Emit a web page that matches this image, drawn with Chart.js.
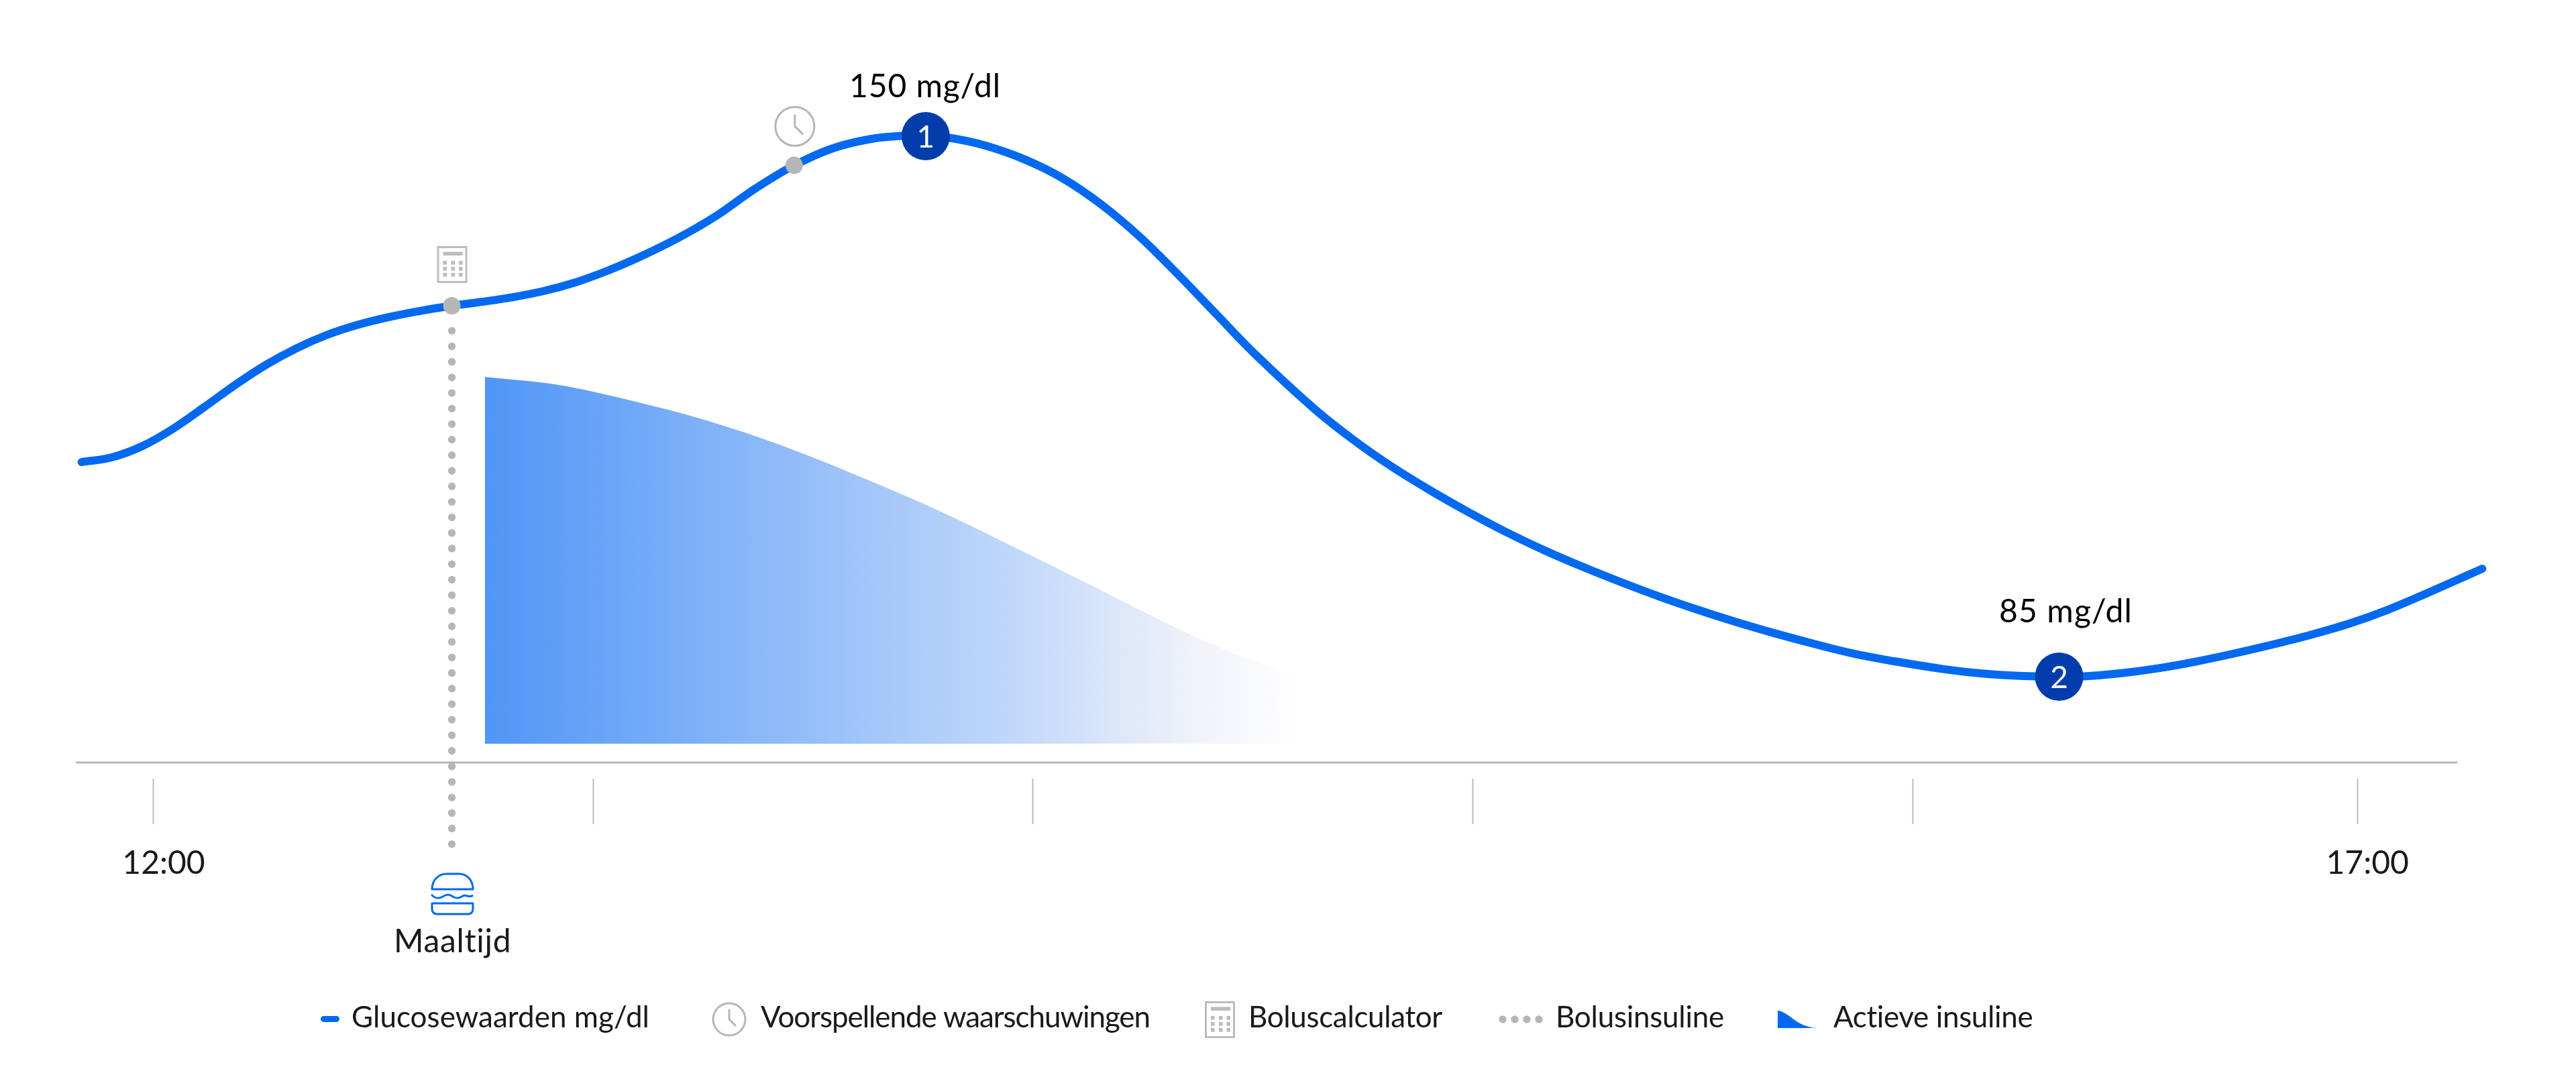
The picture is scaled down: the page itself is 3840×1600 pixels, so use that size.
<!DOCTYPE html>
<html lang="nl">
<head>
<meta charset="UTF-8">
<title>Glucosewaarden</title>
<script src="https://cdn.jsdelivr.net/npm/chart.js"></script>
<style>
  * { margin: 0; padding: 0; }
  body { background: #fff; }
  canvas { display: block; }
</style>
</head>
<body>
<canvas id="glucose-chart" width="3840" height="1600"></canvas>
<script>
// x values are minutes since midnight, y values are mg/dl
const glucoseTimes = [710.2, 714.3, 718.5, 722.7, 726.9, 731.1, 735.3, 739.5, 743.7, 747.9, 752.1, 756.3, 760.6, 764.7, 768.9, 773.1, 777.3, 781.5, 785.7, 791.3, 796.5, 801.8, 807, 812.3, 817.5, 822, 825.1, 828.6, 833.2, 838.5, 843.7, 848.9, 854.2, 859.4, 864.7, 869.9, 877.8, 883.1, 888.3, 893.6, 898.8, 904, 909.3, 914.5, 919.8, 925, 930.2, 935.5, 940.7, 946, 951.2, 957.5, 963.9, 969.1, 974.4, 979.4, 982.8, 987.5, 992.8, 998, 1003.2, 1008.5, 1013.7, 1019, 1024.2, 1029.5, 1037];
const glucoseValues = [110.8, 111.37, 112.74, 114.84, 117.42, 120.08, 122.5, 124.51, 126.13, 127.34, 128.26, 128.99, 129.6, 130.08, 130.64, 131.37, 132.38, 133.71, 135.28, 137.7, 140.36, 143.63, 146.39, 148.49, 149.64, 150.04, 150, 149.76, 148.87, 147.23, 144.96, 141.85, 137.93, 133.42, 128.56, 123.82, 117.37, 113.63, 110.4, 107.5, 104.88, 102.44, 100.2, 98.22, 96.35, 94.63, 93.04, 91.55, 90.21, 88.95, 87.82, 86.77, 85.88, 85.36, 85.08, 85, 85.04, 85.38, 86, 86.81, 87.78, 88.87, 90.04, 91.41, 93.06, 95.04, 97.98];

const insulinTimes = [765.1, 775, 785, 795.3, 805.8, 816.3, 826.8, 837.3, 847.6, 855.2, 862.3, 869.3, 875.9];
const insulinValues = [121.05, 120.1, 118.2, 115.8, 112.7, 109, 105, 100.5, 96, 92.6, 89.6, 87, 85.1];
const insulinBase = 76.93;

const peakTimes = [825.1, 979.4];
const peakValues = [150, 85];
const peakNames = ['1', '2'];
const peakLabels = ['150 mg/dl', '85 mg/dl'];

const eventTimes = [760.6, 807.2];
const eventValues = [129.6, 146.5];

const bolusTimes = [760.6, 760.6];
const bolusValues = [126.6, 63.06];

const axisTimes = [709.41, 1033.6];
const axisValues = [74.67, 74.67];

const tickMinutes = [720, 779.9, 839.7, 899.6, 959.5, 1020];
const tickLabels = ['12:00', '', '', '', '', '17:00'];

const legendLabels = ['Glucosewaarden mg/dl', 'Voorspellende waarschuwingen', 'Boluscalculator', 'Bolusinsuline', 'Actieve insuline'];
const mealLabel = 'Maaltijd';

const BLUE = '#0069f0';
const GREY = '#b6b6b6';
const FONT = 'Lato, sans-serif';

function pairs(xs, ys) {
  return xs.map((x, i) => ({ x: x, y: ys[i] }));
}

// text squeezed or stretched to the width measured on the reference
function label(ctx, text, x, y, size, width, color) {
  ctx.font = size + 'px ' + FONT;
  ctx.letterSpacing = '0px';
  ctx.fillStyle = color || '#1a1a1a';
  ctx.textAlign = 'left';
  ctx.textBaseline = 'alphabetic';
  ctx.letterSpacing = ((width - ctx.measureText(text).width) / text.length) + 'px';
  ctx.fillText(text, x, y);
  ctx.letterSpacing = '0px';
}

function clockIcon(ctx, x, y, r) {
  ctx.strokeStyle = GREY;
  ctx.lineWidth = 3;
  ctx.beginPath();
  ctx.arc(x, y, r, 0, Math.PI * 2);
  ctx.stroke();
  const s = r / 29;
  ctx.beginPath();
  ctx.moveTo(x, y - 18 * s);
  ctx.lineTo(x, y);
  ctx.lineTo(x + 12 * s, y + 12 * s);
  ctx.stroke();
}

function calcIcon(ctx, x, y) {
  ctx.strokeStyle = '#bcbcbc';
  ctx.lineWidth = 3;
  ctx.strokeRect(x + 1.5, y + 1.5, 42, 52);
  ctx.fillStyle = '#bcbcbc';
  ctx.fillRect(x + 9, y + 8.5, 29, 5.5);
  [22, 31, 40].forEach(function (row) {
    [9, 21, 32.5].forEach(function (col) {
      ctx.fillRect(x + col, y + row, 5.6, 5.6);
    });
  });
}

function burgerIcon(ctx) {
  ctx.strokeStyle = BLUE;
  ctx.lineWidth = 3;
  ctx.lineJoin = 'round';
  ctx.beginPath();
  ctx.moveTo(644, 1326);
  ctx.bezierCurveTo(644, 1312, 654, 1303, 666, 1303);
  ctx.lineTo(684, 1303);
  ctx.bezierCurveTo(696, 1303, 705, 1312, 705, 1326);
  ctx.closePath();
  ctx.stroke();
  ctx.beginPath();
  ctx.moveTo(643, 1334);
  ctx.bezierCurveTo(650, 1341, 655, 1340, 660, 1337);
  ctx.bezierCurveTo(666, 1333, 670, 1333, 675, 1337);
  ctx.bezierCurveTo(680, 1340, 684, 1340, 690, 1336);
  ctx.bezierCurveTo(695, 1333, 699, 1340, 705, 1335);
  ctx.stroke();
  ctx.beginPath();
  ctx.moveTo(644, 1347);
  ctx.lineTo(705, 1347);
  ctx.lineTo(705, 1355);
  ctx.quadraticCurveTo(705, 1363, 697, 1363);
  ctx.lineTo(652, 1363);
  ctx.quadraticCurveTo(644, 1363, 644, 1355);
  ctx.closePath();
  ctx.stroke();
}

const annotations = {
  id: 'annotations',
  afterDatasetsDraw(chart) {
    const ctx = chart.ctx;
    ctx.save();

    // numbers inside the peak markers and the values above them
    chart.getDatasetMeta(0).data.forEach(function (pt, i) {
      ctx.fillStyle = '#fff';
      ctx.font = '46px ' + FONT;
      ctx.textAlign = 'center';
      ctx.textBaseline = 'middle';
      ctx.fillText(peakNames[i], pt.x, pt.y + 2);
    });
    label(ctx, peakLabels[0], 1266, 145, 48, 226, '#000');
    label(ctx, peakLabels[1], 2980, 928, 48, 199, '#000');

    // icons above the two grey dots
    const events = chart.getDatasetMeta(1).data;
    calcIcon(ctx, events[0].x - 22, events[0].y - 89);
    clockIcon(ctx, events[1].x + 1, events[1].y - 58, 29);

    burgerIcon(ctx);
    label(ctx, mealLabel, 587, 1420, 48, 176);

    // legend
    ctx.fillStyle = BLUE;
    ctx.beginPath();
    ctx.roundRect(478, 1515, 28, 9, 4.5);
    ctx.fill();
    label(ctx, legendLabels[0], 524, 1532, 44, 444);

    clockIcon(ctx, 1087, 1520, 24);
    label(ctx, legendLabels[1], 1134, 1532, 44, 580);

    calcIcon(ctx, 1796, 1493);
    label(ctx, legendLabels[2], 1861, 1532, 44, 289);

    ctx.fillStyle = GREY;
    [2240, 2258, 2276, 2294].forEach(function (x) {
      ctx.beginPath();
      ctx.arc(x, 1520, 5.7, 0, Math.PI * 2);
      ctx.fill();
    });
    label(ctx, legendLabels[3], 2319, 1532, 44, 251);

    ctx.fillStyle = BLUE;
    ctx.beginPath();
    ctx.moveTo(2650, 1507);
    ctx.bezierCurveTo(2668, 1509, 2676, 1531, 2709, 1533);
    ctx.lineTo(2650, 1533);
    ctx.closePath();
    ctx.fill();
    label(ctx, legendLabels[4], 2733, 1532, 44, 298);

    ctx.restore();
  }
};

function insulinFill(context) {
  const chart = context.chart;
  if (!chart.chartArea) return '#5096f6';
  const xScale = chart.scales.x;
  const g = chart.ctx.createLinearGradient(
    xScale.getPixelForValue(insulinTimes[0]), 0,
    xScale.getPixelForValue(insulinTimes[insulinTimes.length - 1]), 0);
  g.addColorStop(0, '#5096f6');
  g.addColorStop(0.64, '#bfd7fa');
  g.addColorStop(0.88, '#f1f3f9');
  g.addColorStop(1, '#ffffff');
  return g;
}

new Chart(document.getElementById('glucose-chart').getContext('2d'), {
  type: 'line',
  data: {
    datasets: [
      {
        label: 'Pieken',
        data: pairs(peakTimes, peakValues),
        showLine: false,
        pointRadius: 36,
        pointBackgroundColor: '#023dab',
        pointBorderWidth: 0,
        clip: false,
        order: 0
      },
      {
        label: 'Gebeurtenissen',
        data: pairs(eventTimes, eventValues),
        showLine: false,
        pointRadius: 13,
        pointBackgroundColor: GREY,
        pointBorderWidth: 0,
        clip: false,
        order: 1
      },
      {
        label: legendLabels[0],
        data: pairs(glucoseTimes, glucoseValues),
        borderColor: BLUE,
        borderWidth: 12,
        borderCapStyle: 'round',
        pointRadius: 0,
        tension: 0.33,
        clip: false,
        order: 2
      },
      {
        label: legendLabels[3],
        data: pairs(bolusTimes, bolusValues),
        borderColor: GREY,
        borderWidth: 11.4,
        borderCapStyle: 'round',
        borderDash: [0, 23.2],
        pointRadius: 0,
        clip: false,
        order: 3
      },
      {
        label: 'As',
        data: pairs(axisTimes, axisValues),
        borderColor: GREY,
        borderWidth: 3,
        pointRadius: 0,
        clip: false,
        order: 4
      },
      {
        label: legendLabels[4],
        data: pairs(insulinTimes, insulinValues),
        borderWidth: 0,
        borderColor: 'transparent',
        backgroundColor: insulinFill,
        fill: { value: insulinBase },
        tension: 0.33,
        pointRadius: 0,
        clip: false,
        order: 5
      }
    ]
  },
  options: {
    responsive: false,
    devicePixelRatio: 1,
    animation: false,
    layout: { padding: { left: 113, right: 120, top: 0, bottom: 0 } },
    plugins: { legend: { display: false }, tooltip: { enabled: false } },
    scales: {
      x: {
        type: 'linear',
        min: 709.41,
        max: 1038.8,
        afterBuildTicks(scale) {
          scale.ticks = tickMinutes.map(v => ({ value: v }));
        },
        afterFit(scale) {
          scale.height = 439;
        },
        border: { display: false },
        grid: { drawOnChartArea: false, drawTicks: true, tickLength: 68, tickWidth: 2, tickColor: '#bcbcbc' },
        ticks: {
          autoSkip: false,
          maxRotation: 0,
          padding: 30,
          labelOffset: 15,
          color: '#1a1a1a',
          font: { family: 'Lato', size: 48 },
          callback: (value, index) => tickLabels[index]
        }
      },
      y: {
        type: 'linear',
        display: false,
        min: 72.74,
        max: 163.47
      }
    }
  },
  plugins: [annotations]
});
</script>
</body>
</html>
